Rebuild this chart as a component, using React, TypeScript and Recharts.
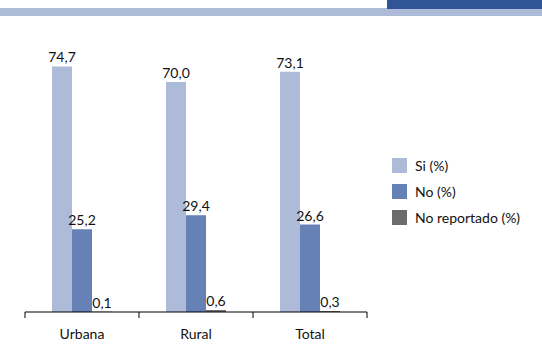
import React from "react";
import { BarChart, Bar, XAxis, YAxis, LabelList } from "recharts";

const categories = ["Urbana", "Rural", "Total"];
const siValues = [74.7, 70.0, 73.1];
const noValues = [25.2, 29.4, 26.6];
const noReportadoValues = [0.1, 0.6, 0.3];

const series = [
  { key: "si", name: "Si (%)", color: "#adbad8" },
  { key: "no", name: "No (%)", color: "#6581b5" },
  { key: "nr", name: "No reportado (%)", color: "#6c6c6e" },
];

const WIDTH = 542;
const HEIGHT = 363;
const AXIS_HEIGHT = 30;
const MARGIN = { top: 49, right: 175, bottom: 51 - AXIS_HEIGHT, left: 25 };
const FONT = "Lato, 'Open Sans', sans-serif";

const data = categories.map((name, i) => ({
  name,
  si: siValues[i],
  no: noValues[i],
  nr: noReportadoValues[i],
}));

const fmt = (v: number) => Number(v).toFixed(1).replace(".", ",");

const bandWidth = (WIDTH - MARGIN.left - MARGIN.right) / categories.length;

// tick marks sit on the category boundaries, not on the centres
function CategoryTick({ x, y, payload, index }: any) {
  const half = bandWidth / 2;
  return (
    <g>
      <line x1={x - half} y1={y} x2={x - half} y2={y + 6} stroke="#000" />
      {index === categories.length - 1 && (
        <line x1={x + half} y1={y} x2={x + half} y2={y + 6} stroke="#000" />
      )}
      <text x={x} y={y + 27} textAnchor="middle" fontSize={14} fill="#111" fontFamily={FONT}>
        {payload.value}
      </text>
    </g>
  );
}

function LegendBox() {
  return (
    <div style={{ position: "absolute", left: 392, top: 152, fontFamily: FONT, fontSize: 14, color: "#111" }}>
      {series.map((s) => (
        <div key={s.key} style={{ display: "flex", alignItems: "center", height: 26 }}>
          <span style={{ width: 15, height: 15, background: s.color, marginRight: 8 }} />
          <span>{s.name}</span>
        </div>
      ))}
    </div>
  );
}

export default function App() {
  return (
    <div style={{ position: "absolute", left: 0, top: 0, width: WIDTH, height: HEIGHT, background: "#fff" }}>
      <div style={{ position: "absolute", left: 0, top: 8, width: WIDTH, height: 8, background: "#adbad8" }} />
      <div style={{ position: "absolute", left: 387, top: 0, width: WIDTH - 387, height: 9, background: "#2f5597" }} />
      <BarChart
        width={WIDTH}
        height={HEIGHT}
        data={data}
        margin={MARGIN}
        barGap={0}
        style={{ position: "absolute", left: 0, top: 0 }}
      >
        <XAxis
          dataKey="name"
          height={AXIS_HEIGHT}
          axisLine={{ stroke: "#000" }}
          tickLine={false}
          tickSize={0}
          tickMargin={0}
          tick={<CategoryTick />}
          interval={0}
        />
        <YAxis hide domain={[0, 80]} />
        {series.map((s) => (
          <Bar key={s.key} dataKey={s.key} name={s.name} fill={s.color} barSize={20} isAnimationActive={false}>
            <LabelList
              dataKey={s.key}
              position="top"
              offset={4}
              formatter={(v: any) => fmt(v)}
              style={{ fontFamily: FONT, fontSize: 14, fill: "#111" }}
            />
          </Bar>
        ))}
      </BarChart>
      <LegendBox />
    </div>
  );
}
